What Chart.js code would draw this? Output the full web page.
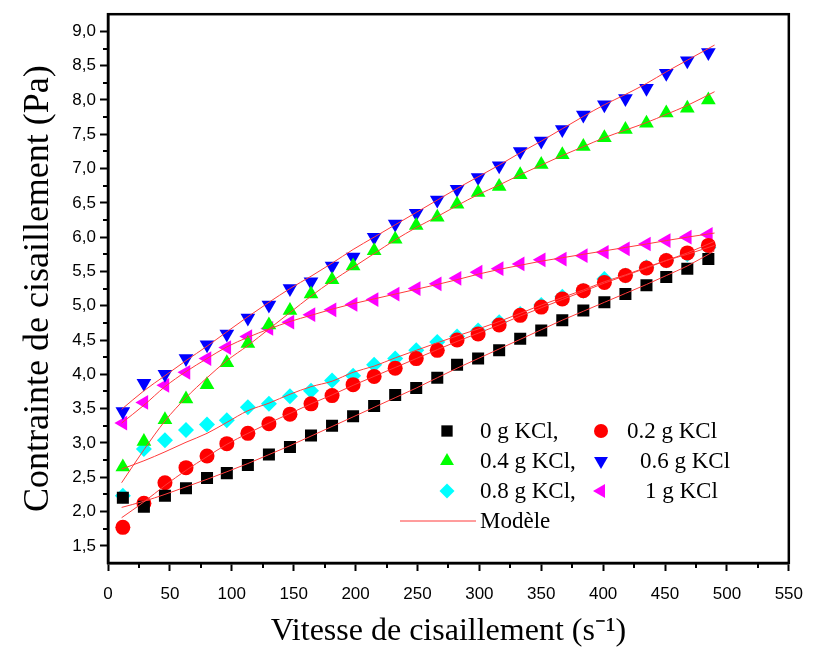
<!DOCTYPE html>
<html>
<head>
<meta charset="utf-8">
<script src="https://cdn.jsdelivr.net/npm/chart.js@4.4.1/dist/chart.umd.min.js"></script>
<style>
  html, body { margin: 0; padding: 0; background: #ffffff; }
  #wrap { position: relative; width: 816px; height: 665px; }
</style>
</head>
<body>
<div id="wrap"><canvas id="chart"></canvas></div>
<script>
// Shear rate (s-1) at which each sample was measured
const shearRate = [12, 29, 46, 63, 80, 96, 113, 130, 147, 164, 181, 198, 215, 232, 249,
                   266, 282, 299, 316, 333, 350, 367, 384, 401, 418, 435, 451, 468, 485];

// Measured shear stress (Pa) for each KCl content
const stress0g = [2.20, 2.07, 2.23, 2.34, 2.49, 2.56, 2.68, 2.83, 2.94, 3.11, 3.25, 3.39, 3.54, 3.70, 3.80,
                  3.95, 4.14, 4.23, 4.35, 4.52, 4.64, 4.79, 4.93, 5.05, 5.17, 5.30, 5.42, 5.54, 5.68];
const stress02g = [1.77, 2.12, 2.42, 2.64, 2.81, 2.99, 3.14, 3.28, 3.42, 3.57, 3.69, 3.85, 3.97, 4.09, 4.23,
                   4.35, 4.50, 4.59, 4.72, 4.86, 4.98, 5.10, 5.22, 5.34, 5.44, 5.55, 5.66, 5.77, 5.88];
const stress04g = [2.65, 3.02, 3.34, 3.64, 3.85, 4.17, 4.45, 4.72, 4.93, 5.17, 5.38, 5.58, 5.80, 5.97, 6.17,
                   6.29, 6.48, 6.65, 6.74, 6.91, 7.06, 7.20, 7.32, 7.45, 7.57, 7.66, 7.81, 7.88, 8.00];
const stress06g = [3.46, 3.87, 4.00, 4.23, 4.43, 4.59, 4.82, 5.01, 5.25, 5.35, 5.58, 5.71, 6.00, 6.19, 6.35,
                   6.54, 6.70, 6.87, 7.04, 7.25, 7.40, 7.57, 7.78, 7.93, 8.02, 8.17, 8.39, 8.57, 8.69];
const stress08g = [2.23, 2.91, 3.04, 3.19, 3.27, 3.33, 3.52, 3.57, 3.68, 3.76, 3.91, 3.98, 4.14, 4.23, 4.35,
                   4.47, 4.55, 4.64, 4.76, 4.88, 5.01, 5.13, 5.22, 5.39, 5.44, 5.56, 5.66, 5.75, 5.85];
const stress1g = [3.29, 3.59, 3.84, 4.03, 4.23, 4.39, 4.55, 4.67, 4.76, 4.87, 4.94, 5.02, 5.09, 5.17, 5.25,
                  5.32, 5.40, 5.49, 5.54, 5.61, 5.67, 5.68, 5.73, 5.78, 5.83, 5.90, 5.95, 6.00, 6.04];

// Fitted model curves (Pa)
const modelRate = [11, 29, 46, 63, 80, 96, 113, 130, 147, 164, 181, 198, 215, 232, 249,
                   266, 282, 299, 316, 333, 350, 367, 384, 401, 418, 435, 451, 468, 490];
const model0g = [2.06, 2.15, 2.25, 2.36, 2.47, 2.58, 2.70, 2.83, 2.96, 3.10, 3.24, 3.38, 3.52, 3.66, 3.80,
                 3.95, 4.09, 4.23, 4.37, 4.51, 4.65, 4.79, 4.92, 5.05, 5.18, 5.31, 5.44, 5.58, 5.80];
const model02g = [1.91, 2.14, 2.38, 2.60, 2.80, 2.98, 3.14, 3.29, 3.43, 3.57, 3.70, 3.84, 3.97, 4.10, 4.23,
                  4.36, 4.48, 4.60, 4.72, 4.85, 4.97, 5.09, 5.21, 5.33, 5.44, 5.55, 5.66, 5.77, 5.94];
const model04g = [2.42, 2.90, 3.32, 3.66, 3.95, 4.20, 4.42, 4.66, 4.90, 5.14, 5.36, 5.56, 5.76, 5.96, 6.14,
                  6.30, 6.46, 6.62, 6.76, 6.91, 7.05, 7.19, 7.32, 7.45, 7.56, 7.67, 7.79, 7.92, 8.12];
const model06g = [3.49, 3.76, 3.98, 4.20, 4.41, 4.62, 4.84, 5.05, 5.25, 5.43, 5.62, 5.82, 6.00, 6.18, 6.36,
                  6.54, 6.71, 6.88, 7.05, 7.23, 7.40, 7.58, 7.76, 7.93, 8.08, 8.24, 8.41, 8.58, 8.80];
const model08g = [2.62, 2.74, 2.87, 3.01, 3.14, 3.30, 3.47, 3.58, 3.71, 3.82, 3.90, 4.03, 4.12, 4.24, 4.35,
                  4.46, 4.56, 4.66, 4.77, 4.89, 5.01, 5.12, 5.23, 5.35, 5.45, 5.56, 5.66, 5.75, 5.88];
const model1g = [3.29, 3.55, 3.82, 4.04, 4.23, 4.40, 4.54, 4.66, 4.77, 4.86, 4.95, 5.03, 5.10, 5.17, 5.24,
                 5.31, 5.38, 5.46, 5.53, 5.59, 5.65, 5.70, 5.75, 5.80, 5.85, 5.90, 5.95, 6.00, 6.06];

// Axis ticks
const xTickValues = [0, 50, 100, 150, 200, 250, 300, 350, 400, 450, 500, 550];
const yTickValues = [1.5, 2.0, 2.5, 3.0, 3.5, 4.0, 4.5, 5.0, 5.5, 6.0, 6.5, 7.0, 7.5, 8.0, 8.5, 9.0];
const xMinorTicks = [25, 75, 125, 175, 225, 275, 325, 375, 425, 475, 525];
const yMinorTicks = [1.75, 2.25, 2.75, 3.25, 3.75, 4.25, 4.75, 5.25, 5.75, 6.25, 6.75, 7.25, 7.75, 8.25, 8.75];

// Series labels
const seriesLabels = ['0 g KCl,', '0.2 g KCl', '0.4 g KCl,', '0.6 g KCl', '0.8 g KCl,', '1 g KCl'];
const modelLabel = 'Modèle';
const xTitle = 'Vitesse de cisaillement (s\u207B\u00B9)';
const yTitle = 'Contrainte de cisaillement (Pa)';

const measured = [stress0g, stress02g, stress04g, stress06g, stress08g, stress1g];
const models = [model0g, model02g, model04g, model06g, model08g, model1g];

const markerStyles = [
  { color: '#000000', pointStyle: 'rect',     radius: 8.5, rotation: 0 },
  { color: '#ff0000', pointStyle: 'circle',   radius: 7.5, rotation: 0 },
  { color: '#00ff00', pointStyle: 'triangle', radius: 8.5, rotation: 0 },
  { color: '#0000ff', pointStyle: 'triangle', radius: 8.5, rotation: 180 },
  { color: '#00ffff', pointStyle: 'rectRot',  radius: 8,   rotation: 0 },
  { color: '#ff00ff', pointStyle: 'triangle', radius: 8.5, rotation: 270 }
];
const modelColor = '#ff3a3a';

const toPoints = (xs, ys) => xs.map((x, i) => ({ x: x, y: ys[i] }));

const datasets = [];
models.forEach((m, i) => {
  datasets.push({
    label: modelLabel + ' ' + i,
    data: toPoints(modelRate, m),
    showLine: true,
    borderColor: modelColor,
    borderWidth: 1,
    pointRadius: 0,
    cubicInterpolationMode: 'monotone',
    order: 0
  });
});
measured.forEach((s, i) => {
  const st = markerStyles[i];
  datasets.push({
    label: seriesLabels[i],
    data: toPoints(shearRate, s),
    showLine: false,
    pointStyle: st.pointStyle,
    pointRotation: st.rotation,
    pointRadius: st.radius,
    pointHoverRadius: st.radius,
    pointBackgroundColor: st.color,
    pointBorderColor: st.color,
    pointBorderWidth: 0,
    order: 1
  });
});

// Frame, minor ticks and in-plot legend
const decorations = {
  id: 'decorations',
  afterDraw(chart) {
    const ctx = chart.ctx;
    const a = chart.chartArea;
    const xs = chart.scales.x, ys = chart.scales.y;
    ctx.save();
    ctx.strokeStyle = '#000';
    ctx.lineWidth = 2.5;
    ctx.strokeRect(a.left, a.top, a.right - a.left, a.bottom - a.top);

    ctx.lineWidth = 2;
    ctx.beginPath();
    xMinorTicks.forEach(v => {
      const px = Math.round(xs.getPixelForValue(v));
      ctx.moveTo(px, a.bottom);
      ctx.lineTo(px, a.bottom + 5);
    });
    yMinorTicks.forEach(v => {
      const py = Math.round(ys.getPixelForValue(v));
      ctx.moveTo(a.left, py);
      ctx.lineTo(a.left - 5, py);
    });
    ctx.stroke();

    // legend
    const rows = [431, 461, 491];
    const markerX = [447, 601];
    const textX = [480, [627, 640, 645]];
    ctx.font = '23px "Liberation Serif", "Times New Roman", serif';
    ctx.textBaseline = 'middle';
    ctx.textAlign = 'left';
    seriesLabels.forEach((lab, i) => {
      const col = i % 2, row = Math.floor(i / 2);
      const st = markerStyles[i];
      ctx.fillStyle = st.color;
      ctx.strokeStyle = st.color;
      Chart.helpers.drawPoint(ctx, {
        pointStyle: st.pointStyle, rotation: st.rotation,
        radius: st.radius - 0.5, borderWidth: 0
      }, markerX[col], rows[row]);
      ctx.fillStyle = '#000';
      const tx = col === 0 ? textX[0] : textX[1][row];
      ctx.fillText(lab, tx, rows[row] + 1);
    });
    ctx.strokeStyle = modelColor;
    ctx.lineWidth = 1;
    ctx.beginPath();
    ctx.moveTo(400, 521);
    ctx.lineTo(476, 521);
    ctx.stroke();
    ctx.fillStyle = '#000';
    ctx.fillText(modelLabel, 480, 522);
    ctx.restore();
  }
};

new Chart(document.getElementById('chart'), {
  type: 'scatter',
  data: { datasets: datasets },
  options: {
    responsive: true,
    maintainAspectRatio: false,
    animation: false,
    layout: { padding: { left: 0, right: 19, top: 10, bottom: 0 } },
    plugins: { legend: { display: false }, tooltip: { enabled: false } },
    scales: {
      x: {
        type: 'linear',
        min: 0, max: 550,
        afterBuildTicks: s => { s.ticks = xTickValues.map(v => ({ value: v })); },
        afterFit: s => { s.height = 102; },
        grid: { drawOnChartArea: false, drawTicks: true, tickLength: 8, tickWidth: 2, tickColor: '#000' },
        border: { display: true, color: '#000', width: 2.5 },
        ticks: {
          color: '#000', padding: 13, maxRotation: 0, autoSkip: false,
          font: { family: '"Liberation Sans", Arial, sans-serif', size: 17 },
          callback: v => String(v)
        },
        title: {
          display: true, text: xTitle, color: '#000',
          font: { family: '"Liberation Serif", "Times New Roman", serif', size: 32 },
          padding: { top: 0, bottom: 14 }
        }
      },
      y: {
        type: 'linear',
        min: 1.25, max: 9.25,
        afterBuildTicks: s => { s.ticks = yTickValues.map(v => ({ value: v })); },
        afterFit: s => { s.width = 108; },
        grid: { drawOnChartArea: false, drawTicks: true, tickLength: 8, tickWidth: 2, tickColor: '#000' },
        border: { display: true, color: '#000', width: 2.5 },
        ticks: {
          color: '#000', padding: 4, autoSkip: false,
          font: { family: '"Liberation Sans", Arial, sans-serif', size: 17 },
          callback: v => Number(v).toFixed(1).replace('.', ',')
        },
        title: {
          display: true, text: yTitle, color: '#000',
          font: { family: '"Liberation Serif", "Times New Roman", serif', size: 36 },
          padding: { top: 17, bottom: 0 }
        }
      }
    }
  },
  plugins: [decorations]
});
</script>
</body>
</html>
